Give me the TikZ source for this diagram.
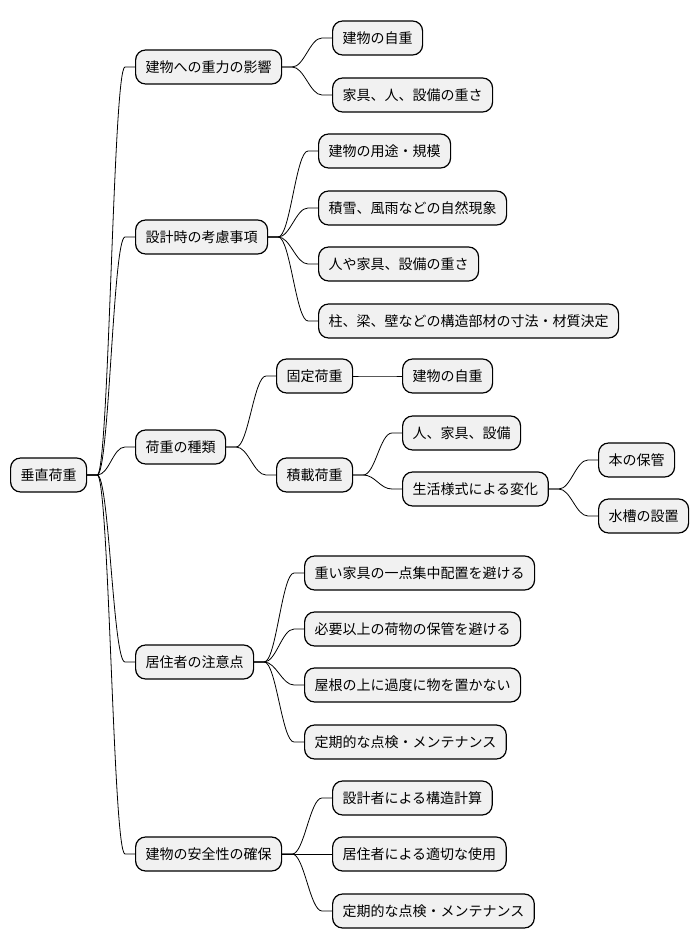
\documentclass[tikz,border=0pt]{standalone}
\usepackage{fontspec}
\newfontfamily\jp{Noto Sans CJK JP}
\usepackage{tikz}
\usetikzlibrary{arrows.meta}
\definecolor{boxfill}{HTML}{F1F1F1}

\tikzset{
  topic/.style={draw=black, line width=1.2pt, fill=boxfill, rounded corners=10pt,
    anchor=west, minimum height=34pt, inner xsep=10pt, inner ysep=0pt,
    font=\jp\fontsize{14pt}{16pt}\selectfont},
  branch/.style={line width=0.8pt,
    to path={-- ++(10pt,0) .. controls +(12pt,0) and +(-12pt,0) .. ([xshift=-10pt]\tikztotarget) -- (\tikztotarget)}}
}

\begin{document}
\begin{tikzpicture}[x=1pt,y=-1pt]
            \useasboundingbox (0,0) rectangle (698,949);

            \node[topic] (R) at (10,475) {垂直荷重};

            \node[topic] (A) at (135,67) {建物への重力の影響};
            \node[topic] (A1) at (332,38) {建物の自重};
            \node[topic] (A2) at (332,95) {家具、人、設備の重さ};

            \node[topic] (B) at (135,237) {設計時の考慮事項};
            \node[topic] (B1) at (318,151) {建物の用途・規模};
            \node[topic] (B2) at (318,208) {積雪、風雨などの自然現象};
            \node[topic] (B3) at (318,264) {人や家具、設備の重さ};
            \node[topic] (B4) at (318,321) {柱、梁、壁などの構造部材の寸法・材質決定};

            \node[topic] (C) at (135,447) {荷重の種類};
            \node[topic] (C1) at (276,376) {固定荷重};
            \node[topic] (C11) at (402,376) {建物の自重};
            \node[topic] (C2) at (276,475) {積載荷重};
            \node[topic] (C21) at (402,433) {人、家具、設備};
            \node[topic] (C22) at (402,489) {生活様式による変化};
            \node[topic] (C221) at (598,460) {本の保管};
            \node[topic] (C222) at (598,516) {水槽の設置};

            \node[topic] (D) at (135,662) {居住者の注意点};
            \node[topic] (D1) at (304,573) {重い家具の一点集中配置を避ける};
            \node[topic] (D2) at (304,629) {必要以上の荷物の保管を避ける};
            \node[topic] (D3) at (304,685) {屋根の上に過度に物を置かない};
            \node[topic] (D4) at (304,742) {定期的な点検・メンテナンス};

            \node[topic] (E) at (135,854) {建物の安全性の確保};
            \node[topic] (E1) at (332,798) {設計者による構造計算};
            \node[topic] (E2) at (332,854) {居住者による適切な使用};
            \node[topic] (E3) at (332,911) {定期的な点検・メンテナンス};

            \foreach \t in {A,B,C,D,E}
              \draw[branch] (R.east) to (\t.west);
            \foreach \t in {A1,A2}
              \draw[branch] (A.east) to (\t.west);
            \foreach \t in {B1,B2,B3,B4}
              \draw[branch] (B.east) to (\t.west);
            \foreach \t in {C1,C2}
              \draw[branch] (C.east) to (\t.west);
            \draw[branch] (C1.east) to (C11.west);
            \foreach \t in {C21,C22}
              \draw[branch] (C2.east) to (\t.west);
            \foreach \t in {C221,C222}
              \draw[branch] (C22.east) to (\t.west);
            \foreach \t in {D1,D2,D3,D4}
              \draw[branch] (D.east) to (\t.west);
            \foreach \t in {E1,E2,E3}
              \draw[branch] (E.east) to (\t.west);
        \end{tikzpicture}
\end{document}
